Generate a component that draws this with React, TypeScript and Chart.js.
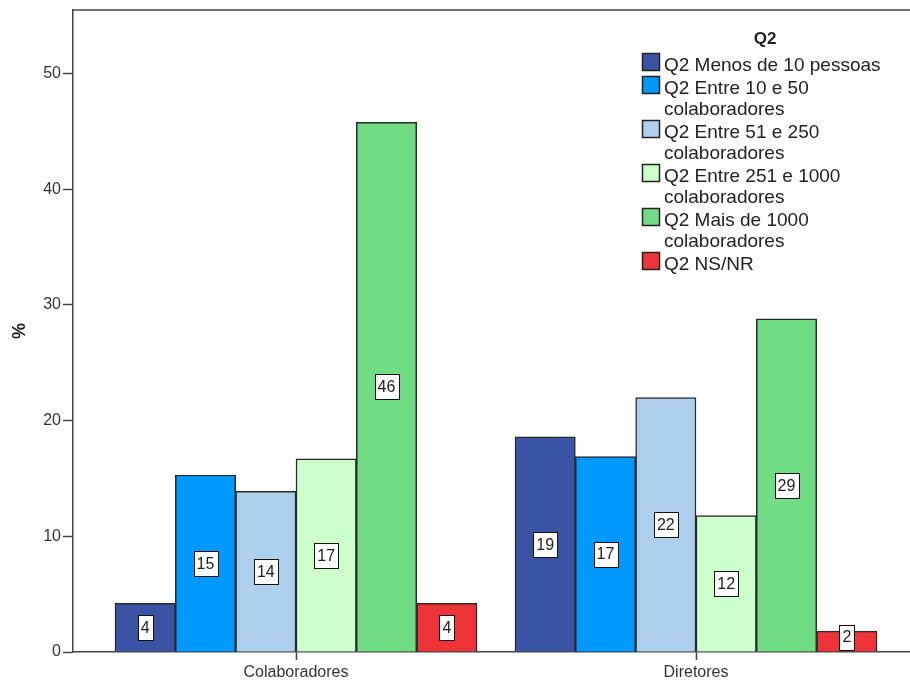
import React, { useEffect, useRef } from "react";
import { Chart, registerables } from "chart.js";

Chart.register(...registerables);

// ---- data ----
const categories = ["Colaboradores", "Diretores"];
const seriesNames = [
  "Q2 Menos de 10 pessoas",
  "Q2 Entre 10 e 50 colaboradores",
  "Q2 Entre 51 e 250 colaboradores",
  "Q2 Entre 251 e 1000 colaboradores",
  "Q2 Mais de 1000 colaboradores",
  "Q2 NS/NR",
];
const legendLines = [
  ["Q2 Menos de 10 pessoas"],
  ["Q2 Entre 10 e 50", "colaboradores"],
  ["Q2 Entre 51 e 250", "colaboradores"],
  ["Q2 Entre 251 e 1000", "colaboradores"],
  ["Q2 Mais de 1000", "colaboradores"],
  ["Q2 NS/NR"],
];
const menos10 = [4.2, 18.6];
const entre10e50 = [15.3, 16.9];
const entre51e250 = [13.9, 22.0];
const entre251e1000 = [16.7, 11.8];
const mais1000 = [45.8, 28.8];
const nsnr = [4.2, 1.8];
const seriesValues = [menos10, entre10e50, entre51e250, entre251e1000, mais1000, nsnr];
const yTicks = [0, 10, 20, 30, 40, 50];
const yMax = 55.5;
const legendTitle = "Q2";
const yTitle = "%";

// ---- styles ----
const colors = ["#3A53A4", "#0099FF", "#AFCFEE", "#CCFFCC", "#70DC84", "#EE3438"];
const FONT = "'Liberation Sans', Arial, sans-serif";
const AXIS = "#444444";
const TEXT = "#222222";

const valueLabelPlugin = {
  id: "valueLabels",
  afterDatasetsDraw(chart: any) {
    const ctx = chart.ctx;
    ctx.save();
    ctx.font = `16px ${FONT}`;
    ctx.textAlign = "center";
    ctx.textBaseline = "middle";
    chart.data.datasets.forEach((ds: any, i: number) => {
      const meta = chart.getDatasetMeta(i);
      meta.data.forEach((bar: any, j: number) => {
        const { x, y, base } = bar.getProps(["x", "y", "base"], true);
        const txt = String(Math.round(ds.data[j].y));
        const w = ctx.measureText(txt).width + 6;
        const h = 25;
        let cy = (y + base) / 2;
        if (cy + h / 2 > base - 2) cy = base - 2 - h / 2;
        const bx = Math.round(x - w / 2) + 0.5;
        const by = Math.round(cy - h / 2) + 0.5;
        ctx.fillStyle = "#ffffff";
        ctx.fillRect(bx, by, Math.round(w), h);
        ctx.strokeStyle = "#111111";
        ctx.lineWidth = 1;
        ctx.strokeRect(bx, by, Math.round(w), h);
        ctx.fillStyle = TEXT;
        ctx.fillText(txt, x, cy + 1);
      });
    });
    ctx.restore();
  },
};

const framePlugin = {
  id: "frameAndLegend",
  afterDraw(chart: any) {
    const ctx = chart.ctx;
    const a = chart.chartArea;
    ctx.save();
    // top frame line
    ctx.strokeStyle = AXIS;
    ctx.lineWidth = 1.5;
    ctx.beginPath();
    ctx.moveTo(a.left, a.top);
    ctx.lineTo(a.right, a.top);
    ctx.stroke();

    // legend
    const lx = a.right - 268;
    ctx.fillStyle = TEXT;
    ctx.font = `bold 17px ${FONT}`;
    ctx.textAlign = "center";
    ctx.textBaseline = "middle";
    ctx.fillText(legendTitle, a.right - 145, 39);

    ctx.font = `19px ${FONT}`;
    ctx.textAlign = "left";
    let y = 66;
    const lh = 21;
    legendLines.forEach((lines, i) => {
      ctx.fillStyle = colors[i];
      ctx.fillRect(lx + 0.5, y - 12.5, 17, 17);
      ctx.strokeStyle = "#222222";
      ctx.lineWidth = 1.5;
      ctx.strokeRect(lx + 0.5, y - 12.5, 17, 17);
      ctx.fillStyle = TEXT;
      lines.forEach((ln, k) => {
        ctx.fillText(ln, lx + 22, y + k * lh);
      });
      y += lines.length * lh + 2;
    });
    ctx.restore();
  },
};

export default function App() {
  const ref = useRef<HTMLCanvasElement | null>(null);

  useEffect(() => {
    if (!ref.current) return;
    const datasets = seriesNames.map((name, i) => ({
      label: name,
      data: categories.map((_, j) => ({ x: j, y: seriesValues[i][j] })),
      backgroundColor: colors[i],
      borderColor: "#2a2a2a",
      borderWidth: 1.5,
      barThickness: 60.33,
    }));

    const chart = new Chart(ref.current, {
      type: "bar",
      data: { datasets },
      options: {
        animation: false,
        responsive: true,
        maintainAspectRatio: false,
        layout: { padding: { top: 7, right: 0, left: 0, bottom: 0 } },
        plugins: {
          legend: { display: false },
          tooltip: { enabled: false },
        },
        scales: {
          x: {
            type: "linear",
            offset: false,
            min: -0.5575,
            max: 1.535,
            afterBuildTicks: (axis: any) => {
              axis.ticks = categories.map((_, j) => ({ value: j }));
            },
            afterFit: (axis: any) => {
              axis.height = 29;
            },
            grid: {
              display: true,
              offset: false,
              drawOnChartArea: false,
              drawTicks: true,
              tickLength: 8,
              tickColor: AXIS,
              tickWidth: 1.5,
            },
            border: { display: true, color: AXIS, width: 1.5 },
            ticks: {
              autoSkip: false,
              maxRotation: 0,
              padding: 3,
              color: "#333333",
              font: { family: FONT, size: 16 },
              callback: (v: any) => categories[v] ?? "",
            },
          },
          y: {
            min: 0,
            max: yMax,
            afterBuildTicks: (axis: any) => {
              axis.ticks = yTicks.map((v) => ({ value: v }));
            },
            afterFit: (axis: any) => {
              axis.width = 73;
            },
            grid: {
              display: true,
              drawOnChartArea: false,
              drawTicks: true,
              tickLength: 10,
              tickColor: AXIS,
              tickWidth: 1.5,
            },
            border: { display: true, color: AXIS, width: 1.5 },
            ticks: {
              padding: 2,
              color: "#333333",
              font: { family: FONT, size: 16, lineHeight: 1 },
            },
            title: {
              display: true,
              text: yTitle,
              color: TEXT,
              font: { family: FONT, size: 18, weight: "bold" },
              padding: { top: 9, bottom: 0 },
            },
          },
        },
      },
      plugins: [valueLabelPlugin, framePlugin],
    } as any);

    return () => chart.destroy();
  }, []);

  return (
    <div style={{ position: "fixed", left: 0, top: 0, width: 910, height: 681, background: "#fff" }}>
      <canvas ref={ref} />
    </div>
  );
}
